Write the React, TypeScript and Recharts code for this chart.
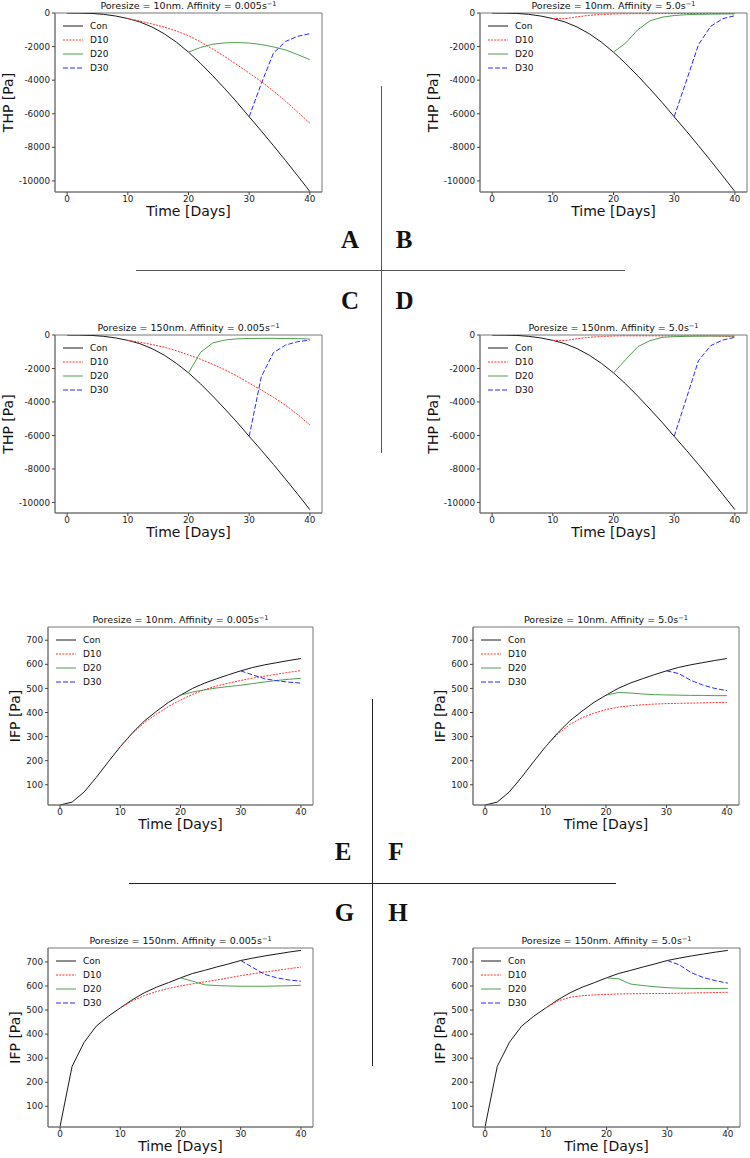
import React from 'react';
import { LineChart, Line, XAxis, YAxis, ReferenceArea, Legend, Label } from 'recharts';

// time axis, every 2 days
const days = [0, 2, 4, 6, 8, 10, 12, 14, 16, 18, 20, 22, 24, 26, 28, 30, 32, 34, 36, 38, 40];

// THP [Pa] -- control runs (all 21 days)
const thpCon10 = [0, -5, -25, -80, -180, -330, -535, -835, -1235, -1735, -2330, -3005, -3740, -4515, -5320, -6180, -7030, -7900, -8790, -9700, -10630];
const thpCon150 = [0, -5, -25, -80, -175, -320, -520, -815, -1205, -1690, -2260, -2920, -3650, -4420, -5210, -6050, -6880, -7730, -8610, -9510, -10430];

// THP treatments: D10 from day 10, D20 from day 20, D30 from day 30
const thpA_d10 = [-330, -480, -650, -840, -1070, -1350, -1720, -2150, -2600, -3080, -3580, -4080, -4650, -5250, -5900, -6560];
const thpA_d20 = [-2330, -2050, -1860, -1780, -1760, -1790, -1880, -2020, -2200, -2480, -2780];
const thpA_d30 = [-6180, -4200, -2390, -1690, -1390, -1230];

const thpB_d10 = [-330, -340, -230, -140, -90, -60, -45, -40, -40, -35, -35, -30, -30, -30, -30, -30];
const thpB_d20 = [-2330, -1790, -1000, -470, -250, -150, -100, -80, -70, -60, -50];
const thpB_d30 = [-6180, -4050, -1890, -800, -340, -160];

const thpC_d10 = [-320, -430, -570, -730, -940, -1190, -1450, -1750, -2080, -2450, -2880, -3280, -3720, -4200, -4750, -5370];
const thpC_d20 = [-2260, -1030, -470, -300, -230, -210, -200, -200, -210, -220, -240];
const thpC_d30 = [-6050, -2490, -1050, -600, -400, -300];

const thpD_d10 = [-320, -330, -220, -140, -90, -60, -50, -50, -50, -50, -50, -50, -50, -60, -80, -100];
const thpD_d20 = [-2260, -1470, -700, -340, -140, -100, -80, -70, -60, -60, -60];
const thpD_d30 = [-6050, -3800, -1530, -640, -300, -140];

// IFP [Pa]
const ifpCon10 = [16, 28, 70, 130, 195, 258, 315, 365, 405, 442, 472, 500, 522, 540, 557, 573, 587, 598, 607, 616, 624];
const ifpCon150 = [16, 266, 366, 433, 474, 509, 543, 572, 595, 614, 634, 652, 665, 679, 692, 706, 716, 725, 733, 741, 748];

const ifpE_d10 = [258, 313, 358, 393, 425, 452, 475, 495, 510, 522, 533, 543, 551, 559, 567, 574];
const ifpE_d20 = [472, 485, 494, 502, 508, 513, 520, 527, 533, 538, 542];
const ifpE_d30 = [573, 556, 540, 532, 526, 522];

const ifpF_d10 = [258, 310, 350, 378, 397, 412, 422, 428, 432, 435, 437, 438, 439, 440, 441, 442];
const ifpF_d20 = [472, 483, 481, 477, 474, 473, 472, 471, 471, 470, 470];
const ifpF_d30 = [573, 562, 534, 514, 500, 491];

const ifpG_d10 = [509, 538, 560, 577, 590, 600, 609, 617, 625, 634, 643, 651, 658, 665, 672, 679];
const ifpG_d20 = [634, 620, 605, 602, 600, 599, 599, 599, 600, 601, 603];
const ifpG_d30 = [706, 677, 648, 634, 625, 620];

const ifpH_d10 = [509, 538, 553, 560, 563, 565, 567, 568, 568, 569, 569, 570, 571, 572, 573, 574];
const ifpH_d20 = [634, 630, 608, 602, 597, 593, 591, 590, 590, 590, 590];
const ifpH_d30 = [706, 688, 655, 635, 622, 612];

const xTicks = [0, 10, 20, 30, 40];
const thpTicks = [0, -2000, -4000, -6000, -8000, -10000];
const ifpTicks = [100, 200, 300, 400, 500, 600, 700];

const SERIES = [
  { key: 'con', name: 'Con', color: '#1a1a1a', dash: undefined, width: 1 },
  { key: 'd10', name: 'D10', color: '#ff3030', dash: '2 1.2', width: 1 },
  { key: 'd20', name: 'D20', color: '#3a943a', dash: undefined, width: 0.9 },
  { key: 'd30', name: 'D30', color: '#2a2aff', dash: '5 2', width: 1 },
];

function buildRows(con: number[], d10: number[], d20: number[], d30: number[]) {
  return days.map((day, i) => ({
    day,
    con: con[i],
    d10: i >= 5 ? d10[i - 5] : null,
    d20: i >= 10 ? d20[i - 10] : null,
    d30: i >= 15 ? d30[i - 15] : null,
  }));
}

const PAD_L = 56;
const PAD_T = 16;
const PAD_R = 6;
const PAD_B = 36;

const renderLegend = () => (
  <div style={{ fontSize: 9, color: '#111' }}>
    {SERIES.map((s) => (
      <div key={s.key} style={{ display: 'flex', alignItems: 'center', height: 14.2 }}>
        <svg width={20} height={8} style={{ display: 'block' }}>
          <line x1={0} y1={4} x2={20} y2={4} stroke={s.color} strokeWidth={s.width} strokeDasharray={s.dash} />
        </svg>
        <span style={{ marginLeft: 7, lineHeight: '14.2px' }}>{s.name}</span>
      </div>
    ))}
  </div>
);

type PanelProps = {
  x: number; y: number; w: number; h: number;
  pore: string; affinity: string;
  ylabel: string; yLabelOffset: number;
  yDomain: [number, number]; yTicks: number[];
  rows: any[];
};

function Panel({ x, y, w, h, pore, affinity, ylabel, yLabelOffset, yDomain, yTicks, rows }: PanelProps) {
  return (
    <div style={{ position: 'absolute', left: x - PAD_L, top: y - PAD_T }}>
      <div
        style={{
          position: 'absolute', left: PAD_L, top: PAD_T - 12.8, width: w, height: 12,
          lineHeight: '12px', fontSize: 9.5, textAlign: 'center', color: '#111', whiteSpace: 'nowrap',
        }}
      >
        Poresize = {pore}. Affinity = {affinity}s
        <span style={{ fontSize: 6.6, position: 'relative', top: -3.5 }}>−1</span>
      </div>
      <LineChart
        width={PAD_L + w + PAD_R}
        height={PAD_T + h + PAD_B}
        data={rows}
        margin={{ top: PAD_T, right: PAD_R, bottom: PAD_B - 30, left: 0 }}
      >
        <XAxis
          dataKey="day" type="number" domain={[-2, 42]} ticks={xTicks} interval={0}
          height={30} tickSize={3} tickMargin={1}
          tick={{ fontSize: 8.8, fill: '#222' }}
          axisLine={{ stroke: '#777' }} tickLine={{ stroke: '#444' }}
        >
          <Label value="Time [Days]" position="insideBottom" offset={6} fontSize={14} fill="#111" style={{ fontSize: 14 }} />
        </XAxis>
        <YAxis
          type="number" domain={yDomain} ticks={yTicks} interval={0} allowDataOverflow
          width={PAD_L} tickSize={3} tickMargin={2}
          tick={{ fontSize: 8.8, fill: '#222' }}
          axisLine={{ stroke: '#777' }} tickLine={{ stroke: '#444' }}
        >
          <Label value={ylabel} angle={-90} position="insideLeft" offset={yLabelOffset} fontSize={14} fill="#111"
            style={{ textAnchor: 'middle', fontSize: 14 }} />
        </YAxis>
        <ReferenceArea x1={-2} x2={42} y1={yDomain[0]} y2={yDomain[1]} fill="none" stroke="#777" strokeWidth={1} />
        <Legend
          layout="vertical" align="center" verticalAlign="middle"
          content={renderLegend}
          wrapperStyle={{ left: PAD_L + 8, top: PAD_T + 5.6, width: 'auto', height: 'auto' }}
        />
        {SERIES.map((s) => (
          <Line
            key={s.key} dataKey={s.key} name={s.name} type="linear"
            stroke={s.color} strokeWidth={s.width} strokeDasharray={s.dash}
            dot={false} activeDot={false} isAnimationActive={false}
          />
        ))}
      </LineChart>
    </div>
  );
}

const letterStyle = (cx: number, cy: number): React.CSSProperties => ({
  position: 'absolute', left: cx - 15, top: cy - 12.6, width: 30, textAlign: 'center',
  fontFamily: '"Liberation Serif", serif', fontWeight: 'bold', fontSize: 25, lineHeight: '25px', color: '#111',
});

const line = (left: number, top: number, width: number, height: number, color: string): React.CSSProperties => ({
  position: 'absolute', left, top, width, height, background: color,
});

export default function App() {
  const thpDomA: [number, number] = [-10660, 0];
  const thpDomC: [number, number] = [-10630, 0];
  const ifpDomE: [number, number] = [16, 755];
  const ifpDomG: [number, number] = [14, 758];
  return (
    <div
      style={{
        position: 'absolute', left: 0, top: 0, width: 750, height: 1158, background: '#fff',
        overflow: 'hidden', fontFamily: '"DejaVu Sans", sans-serif',
      }}
    >
      <Panel x={55} y={13} w={267} h={179} pore="10nm" affinity="0.005" ylabel="THP [Pa]" yLabelOffset={9}
        yDomain={thpDomA} yTicks={thpTicks} rows={buildRows(thpCon10, thpA_d10, thpA_d20, thpA_d30)} />
      <Panel x={480} y={13} w={267} h={179} pore="10nm" affinity="5.0" ylabel="THP [Pa]" yLabelOffset={9}
        yDomain={thpDomA} yTicks={thpTicks} rows={buildRows(thpCon10, thpB_d10, thpB_d20, thpB_d30)} />
      <Panel x={55} y={335} w={267} h={178} pore="150nm" affinity="0.005" ylabel="THP [Pa]" yLabelOffset={9}
        yDomain={thpDomC} yTicks={thpTicks} rows={buildRows(thpCon150, thpC_d10, thpC_d20, thpC_d30)} />
      <Panel x={480} y={335} w={267} h={178} pore="150nm" affinity="5.0" ylabel="THP [Pa]" yLabelOffset={9}
        yDomain={thpDomC} yTicks={thpTicks} rows={buildRows(thpCon150, thpD_d10, thpD_d20, thpD_d30)} />

      <Panel x={48} y={627} w={265} h={178} pore="10nm" affinity="0.005" ylabel="IFP [Pa]" yLabelOffset={23.5}
        yDomain={ifpDomE} yTicks={ifpTicks} rows={buildRows(ifpCon10, ifpE_d10, ifpE_d20, ifpE_d30)} />
      <Panel x={473} y={627} w={266} h={178} pore="10nm" affinity="5.0" ylabel="IFP [Pa]" yLabelOffset={23.5}
        yDomain={ifpDomE} yTicks={ifpTicks} rows={buildRows(ifpCon10, ifpF_d10, ifpF_d20, ifpF_d30)} />
      <Panel x={48} y={948} w={265} h={179} pore="150nm" affinity="0.005" ylabel="IFP [Pa]" yLabelOffset={23.5}
        yDomain={ifpDomG} yTicks={ifpTicks} rows={buildRows(ifpCon150, ifpG_d10, ifpG_d20, ifpG_d30)} />
      <Panel x={473} y={948} w={267} h={179} pore="150nm" affinity="5.0" ylabel="IFP [Pa]" yLabelOffset={23.5}
        yDomain={ifpDomG} yTicks={ifpTicks} rows={buildRows(ifpCon150, ifpH_d10, ifpH_d20, ifpH_d30)} />

      {/* panel dividers */}
      <div style={line(380.5, 86, 1.5, 367, '#555')} />
      <div style={line(136, 269.5, 489, 1.5, '#555')} />
      <div style={line(371.5, 699, 1.5, 367, '#222')} />
      <div style={line(129, 882.5, 487, 1.5, '#222')} />

      <div style={letterStyle(350, 240)}>A</div>
      <div style={letterStyle(404, 240)}>B</div>
      <div style={letterStyle(350, 300.5)}>C</div>
      <div style={letterStyle(404.5, 300.5)}>D</div>
      <div style={letterStyle(343, 852)}>E</div>
      <div style={letterStyle(396, 852)}>F</div>
      <div style={letterStyle(344.5, 912.5)}>G</div>
      <div style={letterStyle(398, 912.5)}>H</div>
    </div>
  );
}
